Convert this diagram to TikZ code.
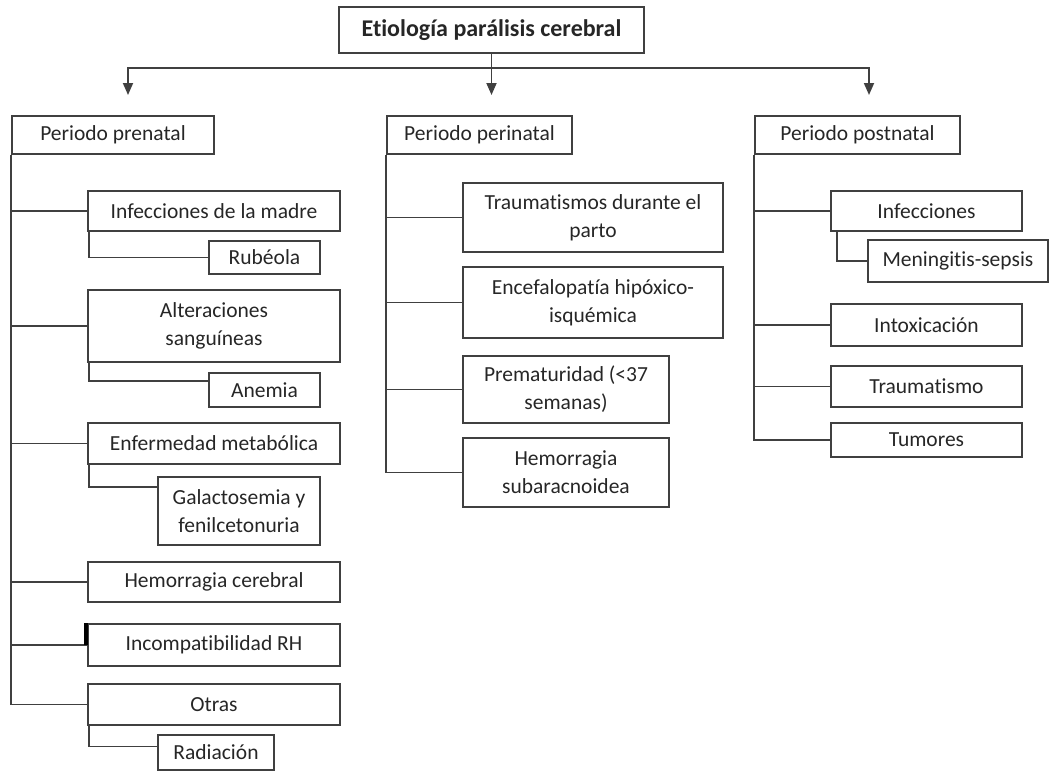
\documentclass[tikz,border=0pt]{standalone}
\usepackage{fontspec}
\setmainfont[Ligatures=NoCommon]{Carlito}
\usepackage{tikz}
\usetikzlibrary{arrows.meta}

\tikzset{
	box/.style 2 args={draw=black!75, line width=1.8pt, text=black!85, minimum width=#1pt, minimum height=#2pt, inner sep=0pt, align=center, font=\fontsize{21.5}{28}\selectfont},
	link/.style={draw=black!75, line width=1.8pt},
	arr/.style={link, -{Triangle[length=12pt,width=10pt]}}
}

\begin{document}
\begin{tikzpicture}[x=1pt,y=-1pt]
			\useasboundingbox (0,0) rectangle (1060,772);
			\node[box={305}{46}, font=\fontsize{24}{28}\selectfont\bfseries] (etio) at (491.5,30) {Etiología parálisis cerebral};
			\node[box={202}{38}] (pre) at (113,135) {Periodo prenatal};
			\node[box={185}{38}] (peri) at (479.5,135) {Periodo perinatal};
			\node[box={205}{38}] (post) at (857.5,135) {Periodo postnatal};
			\node[box={252}{40}] (inf) at (214,211) {Infecciones de la madre};
			\node[box={111}{33}] (rub) at (264.5,257.5) {Rubéola};
			\node[box={252}{72}] (alt) at (214,326) {Alteraciones\\sanguíneas};
			\node[box={111}{34}] (anem) at (264.5,390) {Anemia};
			\node[box={252}{41}] (enf) at (214,443.5) {Enfermedad metabólica};
			\node[box={162}{68}] (gal) at (239,511) {Galactosemia y\\fenilcetonuria};
			\node[box={252}{40}] (hemc) at (214,582) {Hemorragia cerebral};
			\node[box={252}{42}] (incomp) at (214,645) {Incompatibilidad RH};
			\node[box={252}{41}] (otras) at (214,704.5) {Otras};
			\node[box={116}{35}] (rad) at (216,752.5) {Radiación};
			\node[box={260}{69}] (trau) at (593,217.5) {Traumatismos durante el\\parto};
			\node[box={260}{71}] (ence) at (593,302.5) {Encefalopatía hipóxico-\\isquémica};
			\node[box={206}{67}] (prem) at (566,389.5) {Prematuridad (<37\\semanas)};
			\node[box={206}{69}] (hems) at (566,472.5) {Hemorragia\\subaracnoidea};
			\node[box={191}{40}] (infp) at (926.5,211) {Infecciones};
			\node[box={180}{42}] (men) at (958,261) {Meningitis-sepsis};
			\node[box={191}{42}] (intox) at (926.5,325) {Intoxicación};
			\node[box={191}{41}] (traum) at (926.5,386.5) {Traumatismo};
			\node[box={191}{34}] (tum) at (926.5,440) {Tumores};
			\coordinate (J) at (491.5,68);
			\coordinate (aL) at (128,95);
			\coordinate (aM) at (491.5,95);
			\coordinate (aR) at (869,95);
			\draw[arr] (etio.south) -- (aM);
			\draw[arr] (J) -| (aL);
			\draw[arr] (J) -| (aR);
			\draw[link] (pre.south west) |- (otras.west);
			\foreach \n in {inf,alt,enf,hemc,incomp}
				\draw[link] (pre.south west |- \n.west) -- (\n.west);
			\draw[link] ([xshift=2pt]inf.south west) |- (rub.west);
			\draw[link] ([xshift=2pt]alt.south west) |- ([yshift=9pt]anem.west);
			\draw[link] ([xshift=2pt]enf.south west) |- ([yshift=24pt]gal.west);
			\draw[link] ([xshift=2pt]otras.south west) |- ([yshift=6pt]rad.west);
			\draw[line width=3.5pt, black] ([xshift=-1pt]incomp.north west) -- ([xshift=-1pt]incomp.west);
			\draw[link] (peri.south west) |- (hems.west);
			\foreach \n in {trau,ence,prem}
				\draw[link] (peri.south west |- \n.west) -- (\n.west);
			\draw[link] (post.south west) |- (tum.west);
			\foreach \n in {infp,intox,traum}
				\draw[link] (post.south west |- \n.west) -- (\n.west);
			\draw[link] ([xshift=7pt]infp.south west) |- (men.west);
		\end{tikzpicture}
\end{document}
